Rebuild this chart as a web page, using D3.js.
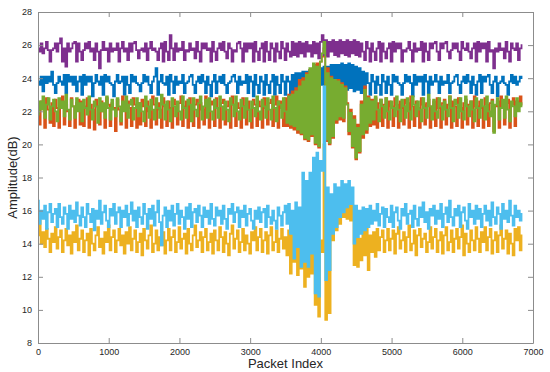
<!DOCTYPE html>
<html>
<head>
<meta charset="utf-8">
<script src="https://cdn.jsdelivr.net/npm/d3@7"></script>
<style>
  body { margin: 0; background: #fff; }
  svg { display: block; font-family: "Liberation Sans", Arial, sans-serif; }
  .axis path, .axis line { stroke: #8c8c8c; }
  .axis text { fill: #262626; font-size: 9px; }
  .trace { fill: none; stroke-width: 1.8; stroke-linejoin: miter; }
</style>
</head>
<body>
<svg class="chart" width="550" height="372"></svg>
<script>
// one reading every 25 packets, 0 .. 6850 (25 readings per row)
var packetStep = 25;

var purple = [
  25.8, 25.6, 26.1, 25.5, 25.8, 26.2, 25.7, 25.0, 25.7, 25.8, 26.1, 25.6, 26.1, 26.4, 25.0, 25.8, 24.7, 26.1, 25.6, 25.8, 26.1, 26.2, 25.0, 26.1, 25.6,
  25.1, 25.7, 26.1, 25.8, 26.2, 25.6, 25.8, 25.1, 26.1, 25.6, 24.6, 25.7, 26.2, 25.7, 25.8, 25.0, 26.1, 25.6, 25.8, 25.7, 26.1, 25.0, 25.8, 26.2, 25.6,
  25.8, 25.1, 26.1, 25.6, 26.1, 26.2, 25.7, 25.2, 25.7, 25.8, 25.6, 26.1, 25.1, 25.8, 26.2, 25.7, 25.8, 25.6, 25.1, 25.8, 26.1, 25.0, 26.2, 25.6, 25.1,
  26.6, 25.8, 25.1, 26.1, 25.6, 25.8, 25.7, 26.2, 25.1, 25.7, 25.6, 26.1, 25.7, 25.8, 25.2, 26.2, 25.6, 25.0, 26.1, 25.8, 26.1, 25.7, 25.8, 25.0, 26.2,
  25.6, 25.1, 25.8, 26.1, 25.7, 26.2, 25.6, 25.2, 26.1, 25.8, 25.0, 25.7, 25.6, 26.1, 26.2, 25.8, 25.0, 26.1, 25.6, 26.1, 25.8, 26.1, 25.0, 26.2, 25.6,
  25.1, 25.8, 26.1, 25.0, 26.2, 25.6, 25.1, 26.1, 25.8, 25.0, 26.1, 25.6, 25.2, 26.2, 25.8, 25.1, 26.1, 25.6, 25.3, 26.2, 25.4, 26.1, 25.3, 26.2, 25.5,
  26.1, 25.3, 26.2, 25.6, 26.0, 25.3, 26.2, 25.5, 26.1, 25.2, 26.2, 26.6, 25.4, 26.3, 25.3, 26.2, 25.6, 26.3, 25.4, 26.2, 25.3, 26.3, 25.5, 26.2, 25.4,
  26.3, 25.3, 26.2, 25.5, 26.3, 25.4, 26.2, 25.3, 26.1, 25.6, 25.1, 26.2, 25.8, 25.0, 26.1, 25.6, 25.1, 25.8, 26.2, 25.0, 26.1, 25.6, 25.2, 25.8, 26.1,
  25.0, 26.2, 25.6, 26.1, 25.8, 26.1, 25.0, 25.7, 25.6, 25.8, 26.2, 25.7, 25.0, 26.1, 25.6, 25.8, 25.7, 26.2, 25.0, 26.1, 25.6, 25.1, 26.1, 25.8, 26.1,
  26.2, 25.6, 25.1, 26.1, 25.8, 26.1, 26.2, 25.6, 25.2, 25.7, 26.1, 25.8, 26.1, 25.6, 25.1, 26.2, 25.8, 25.7, 26.1, 25.6, 25.2, 25.8, 26.1, 25.0, 26.2,
  25.6, 26.1, 25.8, 26.1, 25.0, 26.2, 25.6, 25.7, 24.6, 25.8, 25.6, 26.1, 25.7, 25.8, 25.2, 26.2, 25.6, 25.0, 26.1, 25.8, 25.7, 26.1, 25.1, 25.8, 26.0
];

var blue = [
  23.8, 23.6, 24.1, 23.2, 24.1, 23.7, 24.1, 23.8, 24.4, 23.6, 23.1, 23.7, 24.1, 23.8, 23.6, 24.2, 23.1, 24.2, 23.8, 24.1, 23.6, 24.1, 23.2, 23.8, 24.1,
  23.0, 24.2, 23.6, 24.1, 23.8, 24.1, 22.9, 23.7, 24.2, 23.8, 23.6, 24.1, 23.0, 24.2, 23.8, 24.1, 23.7, 23.6, 22.9, 23.8, 24.2, 23.7, 23.8, 24.1, 23.0,
  24.1, 23.6, 23.1, 24.2, 23.8, 24.1, 23.7, 23.6, 23.2, 23.7, 24.2, 23.8, 24.1, 23.6, 23.1, 23.8, 24.1, 24.6, 23.0, 23.8, 24.2, 23.7, 23.6, 24.1, 23.0,
  24.2, 23.8, 23.1, 24.1, 23.6, 23.8, 23.7, 24.2, 23.1, 23.7, 23.8, 24.1, 24.2, 23.6, 23.1, 23.8, 24.1, 23.7, 24.2, 23.8, 23.1, 24.1, 23.6, 22.9, 23.8,
  24.2, 23.1, 23.8, 24.1, 23.7, 24.2, 23.6, 23.1, 23.7, 23.8, 24.1, 24.2, 23.8, 23.1, 24.1, 23.6, 23.8, 23.7, 24.2, 23.1, 24.1, 23.8, 22.9, 24.2, 23.6,
  23.1, 24.1, 23.8, 23.0, 24.2, 23.6, 23.1, 23.8, 24.2, 23.0, 24.1, 23.6, 23.1, 24.2, 23.8, 23.0, 24.1, 23.8, 23.1, 24.2, 23.2, 24.3, 23.2, 24.3, 23.3,
  24.4, 23.3, 24.4, 23.5, 24.5, 23.4, 24.5, 23.6, 24.6, 23.5, 24.6, 23.6, 24.7, 23.5, 24.7, 23.6, 24.8, 23.5, 24.8, 23.4, 24.8, 23.5, 24.9, 23.4, 24.8,
  23.3, 24.9, 23.4, 24.8, 23.2, 24.7, 23.3, 24.6, 23.1, 24.4, 23.2, 24.3, 23.7, 23.0, 24.2, 23.8, 23.1, 24.1, 23.6, 23.0, 24.2, 23.8, 23.1, 24.1, 23.6,
  23.0, 24.2, 23.8, 24.1, 23.7, 23.6, 23.0, 23.7, 24.2, 23.8, 24.1, 23.7, 22.9, 24.2, 23.6, 24.1, 23.8, 24.1, 23.0, 24.2, 23.8, 23.1, 24.1, 23.6, 23.8,
  24.2, 23.8, 23.1, 24.1, 23.6, 23.8, 23.7, 24.2, 23.1, 23.7, 23.8, 24.1, 24.2, 23.6, 23.1, 23.8, 24.1, 23.7, 24.2, 23.8, 23.1, 24.1, 23.6, 23.0, 23.8,
  24.2, 23.1, 24.1, 23.8, 24.1, 24.2, 23.6, 23.1, 23.8, 24.1, 22.9, 23.7, 23.8, 24.1, 23.7, 23.6, 23.0, 23.8, 24.2, 23.7, 24.1, 23.6, 23.8, 24.1, 24.0
];

var red = [
  22.0, 21.2, 22.6, 22.3, 21.0, 22.8, 22.1, 21.3, 22.5, 21.1, 22.7, 22.2, 21.0, 22.6, 22.9, 21.2, 22.4, 22.0, 21.1, 22.8, 22.3, 21.0, 22.5, 22.7, 21.2,
  22.6, 21.1, 22.3, 22.8, 21.0, 22.4, 22.1, 20.9, 22.7, 22.3, 21.2, 22.6, 22.0, 21.0, 22.8, 22.4, 21.1, 22.5, 22.2, 20.8, 22.7, 22.1, 21.2, 22.9, 22.3,
  21.0, 22.6, 22.2, 21.1, 22.8, 22.4, 21.0, 22.5, 21.2, 22.7, 22.3, 21.1, 22.6, 22.0, 21.0, 22.9, 22.4, 21.2, 22.5, 22.1, 21.0, 22.8, 22.3, 21.1, 22.6,
  22.2, 21.0, 22.7, 22.4, 21.2, 22.5, 22.9, 21.1, 22.3, 22.6, 21.0, 22.8, 22.2, 21.1, 22.4, 22.7, 21.0, 22.5, 22.1, 21.2, 22.9, 22.3, 21.0, 22.6, 22.4,
  21.1, 22.8, 22.2, 21.0, 22.5, 22.7, 21.2, 22.3, 22.6, 21.0, 22.9, 22.4, 21.1, 22.5, 22.2, 21.0, 22.8, 22.3, 21.2, 22.6, 22.1, 21.0, 22.7, 22.4, 21.1,
  22.6, 22.3, 21.0, 22.8, 22.2, 21.2, 22.5, 22.7, 21.1, 22.4, 22.9, 21.0, 22.6, 22.2, 21.1, 22.8, 21.1, 23.0, 21.0, 23.2, 20.9, 23.4, 20.7, 23.9, 20.6,
  24.0, 20.3, 24.3, 20.2, 24.5, 20.5, 24.8, 20.0, 24.9, 19.8, 25.0, 25.3, 25.8, 20.2, 24.6, 20.0, 24.1, 20.4, 23.9, 21.3, 23.9, 21.5, 23.7, 21.4, 23.5,
  22.5, 20.6, 22.1, 19.8, 21.7, 19.1, 21.2, 19.5, 22.6, 20.4, 23.5, 20.7, 22.9, 21.1, 22.7, 21.2, 22.8, 21.0, 22.5, 22.7, 21.1, 22.4, 22.8, 21.0, 22.6,
  22.3, 21.1, 22.8, 22.4, 21.0, 22.6, 22.2, 21.2, 22.7, 22.5, 21.0, 22.9, 22.3, 21.1, 22.6, 22.2, 21.0, 22.8, 22.4, 21.2, 22.5, 22.7, 21.0, 22.3, 22.6,
  21.1, 22.8, 22.2, 21.0, 22.5, 22.7, 21.2, 22.4, 22.9, 21.0, 22.6, 22.3, 21.1, 22.8, 22.2, 21.0, 22.5, 22.7, 21.2, 22.4, 22.6, 21.0, 22.9, 22.3, 21.1,
  22.6, 22.2, 21.0, 22.8, 22.4, 21.1, 22.5, 22.7, 20.8, 22.3, 22.6, 21.0, 22.9, 22.2, 21.2, 22.5, 22.7, 21.0, 22.4, 22.8, 21.1, 22.6, 22.3, 22.9, 22.4
];

var yellow = [
  14.5, 15.4, 14.0, 14.7, 13.8, 14.9, 14.3, 13.5, 14.6, 14.1, 15.0, 13.7, 14.4, 14.8, 13.5, 14.2, 14.9, 13.9, 14.5, 13.4, 14.7, 14.1, 15.1, 13.6, 14.3,
  14.8, 13.5, 14.2, 14.6, 13.3, 14.9, 14.0, 13.6, 14.5, 15.0, 13.8, 14.3, 13.4, 14.7, 14.1, 15.1, 13.6, 14.4, 14.8, 13.5, 14.2, 14.9, 13.9, 14.5, 13.4,
  14.7, 14.0, 15.0, 13.6, 14.3, 14.8, 13.5, 14.1, 14.6, 13.3, 14.9, 14.2, 13.7, 14.5, 15.1, 13.5, 14.0, 14.8, 13.6, 14.4, 13.9, 14.7, 13.4, 14.2, 14.9,
  13.6, 14.4, 14.8, 13.5, 14.1, 15.0, 13.7, 14.3, 14.6, 13.4, 14.9, 14.0, 13.6, 14.5, 15.1, 13.8, 14.2, 14.7, 13.5, 14.4, 14.9, 13.6, 14.1, 14.6, 13.4,
  14.8, 14.2, 13.6, 15.0, 14.4, 13.5, 14.7, 14.0, 13.3, 14.6, 15.1, 13.7, 14.3, 14.8, 13.5, 14.1, 14.9, 13.6, 14.5, 14.0, 13.4, 14.7, 14.2, 15.0, 13.6,
  14.4, 14.9, 13.5, 14.2, 14.7, 13.4, 14.5, 15.0, 13.6, 14.1, 14.8, 13.5, 14.3, 14.9, 13.7, 14.4, 13.3, 14.8, 12.2, 14.6, 12.9, 15.0, 12.1, 14.5, 12.5,
  14.8, 11.4, 15.0, 12.0, 14.6, 12.2, 14.0, 10.3, 14.5, 9.6, 14.2, 13.5, 20.0, 9.4, 15.0, 9.8, 15.5, 14.2, 16.2, 14.8, 16.4, 15.2, 16.6, 15.6, 16.3,
  15.5, 16.6, 15.4, 16.3, 12.7, 14.6, 12.6, 14.3, 13.0, 14.8, 13.3, 14.9, 12.4, 14.5, 13.5, 14.7, 13.2, 14.9, 13.6, 14.4, 14.8, 13.5, 14.2, 14.9, 13.6,
  14.3, 14.8, 13.4, 14.6, 15.0, 13.7, 14.2, 14.7, 13.5, 14.4, 15.1, 13.6, 14.0, 14.8, 13.3, 14.5, 14.9, 13.8, 14.3, 14.6, 13.5, 14.1, 15.0, 13.7, 14.4,
  14.9, 13.5, 14.2, 14.7, 13.4, 14.5, 15.0, 13.6, 14.1, 14.8, 13.5, 14.3, 14.9, 13.7, 14.4, 15.1, 13.3, 14.6, 14.0, 13.5, 14.8, 14.2, 13.6, 15.0, 14.3,
  13.5, 14.7, 14.1, 15.0, 13.6, 14.4, 14.9, 13.4, 14.2, 14.7, 13.5, 14.5, 15.1, 13.7, 14.3, 14.8, 13.4, 14.6, 14.0, 13.3, 14.9, 14.2, 15.0, 13.6, 14.5
];

var green = [
  21.8, 22.6, 22.1, 22.9, 21.6, 22.4, 22.8, 21.5, 22.3, 22.7, 22.0, 21.4, 22.8, 22.2, 22.6, 21.7, 23.0, 22.1, 21.5, 22.7, 22.3, 21.6, 22.8, 22.0, 22.5,
  21.4, 22.7, 22.2, 21.8, 22.9, 22.1, 21.5, 22.6, 22.3, 21.3, 22.8, 22.0, 22.5, 21.6, 22.9, 22.2, 21.5, 22.7, 22.1, 21.7, 22.8, 22.3, 21.4, 22.6, 22.0,
  22.9, 21.6, 22.4, 22.7, 21.5, 22.2, 22.8, 21.7, 22.5, 22.0, 21.4, 22.9, 22.3, 21.6, 22.7, 22.1, 21.5, 22.8, 22.2, 21.6, 23.0, 22.4, 21.5, 22.6, 22.1,
  21.4, 22.8, 22.3, 21.7, 22.6, 22.0, 21.5, 22.9, 22.2, 21.6, 22.7, 22.4, 21.4, 22.8, 22.1, 21.7, 22.5, 22.9, 21.5, 22.3, 22.7, 21.6, 22.8, 22.0, 21.5,
  22.7, 22.2, 21.6, 22.9, 22.3, 21.5, 22.6, 22.1, 21.4, 22.8, 22.4, 21.7, 22.9, 22.0, 21.5, 22.7, 22.3, 21.6, 22.8, 22.1, 21.4, 22.6, 22.2, 21.7, 22.9,
  22.0, 21.5, 22.7, 22.3, 21.6, 22.8, 22.1, 21.5, 22.9, 22.2, 21.4, 22.6, 22.4, 21.6, 22.8, 22.0, 21.3, 22.9, 21.2, 23.0, 21.1, 23.2, 20.9, 23.5, 20.7,
  23.8, 20.4, 24.2, 20.3, 24.6, 20.6, 24.9, 20.1, 24.7, 19.9, 25.0, 25.5, 26.2, 20.3, 24.3, 20.1, 24.0, 20.5, 23.9, 21.5, 23.8, 21.7, 23.6, 21.6, 23.4,
  22.4, 20.8, 21.9, 19.9, 21.5, 19.2, 21.0, 19.6, 22.4, 20.6, 23.3, 20.9, 22.8, 21.3, 22.6, 21.5, 22.9, 22.1, 21.4, 22.7, 22.3, 21.6, 22.8, 22.0, 21.5,
  22.6, 22.2, 21.7, 22.9, 22.1, 21.4, 22.7, 22.3, 21.6, 22.8, 22.0, 21.5, 22.9, 22.4, 21.7, 22.6, 22.1, 21.4, 22.8, 22.2, 21.6, 23.0, 22.3, 21.5, 22.7,
  22.0, 21.6, 22.8, 22.3, 21.5, 22.6, 22.1, 21.7, 22.9, 22.2, 21.4, 22.7, 22.4, 21.6, 22.8, 22.0, 21.5, 22.9, 22.3, 21.7, 22.6, 22.1, 21.4, 22.8, 22.2,
  21.6, 22.7, 22.3, 21.5, 22.9, 22.0, 21.7, 22.6, 20.7, 22.4, 22.8, 21.5, 22.2, 22.7, 21.6, 22.9, 22.1, 21.4, 22.6, 22.3, 21.7, 22.8, 22.0, 22.5, 22.3
];

var lightBlue = [
  16.6, 15.2, 16.0, 15.5, 16.3, 14.9, 15.9, 16.4, 15.3, 15.8, 16.1, 15.0, 16.4, 15.6, 15.2, 16.2, 15.8, 14.9, 16.3, 15.5, 16.0, 15.3, 16.5, 15.7, 15.1,
  16.2, 15.6, 15.0, 16.4, 15.8, 15.3, 16.1, 14.8, 16.0, 15.5, 16.6, 15.2, 15.9, 16.3, 15.4, 15.0, 16.1, 15.7, 16.4, 15.2, 15.9, 16.2, 15.0, 16.0, 15.6,
  16.3, 15.1, 15.8, 16.5, 15.4, 16.0, 15.0, 16.2, 15.6, 15.2, 16.4, 15.8, 14.9, 16.1, 15.5, 16.3, 15.1, 15.9, 16.6, 15.3, 13.9, 15.7, 16.2, 15.0, 16.0,
  15.4, 16.3, 15.1, 15.8, 16.4, 15.2, 16.0, 15.6, 14.9, 16.2, 15.5, 16.4, 15.0, 15.9, 16.1, 15.3, 16.3, 15.7, 15.0, 16.2, 15.6, 16.0, 15.2, 16.4, 15.5,
  15.1, 16.2, 15.7, 16.0, 15.2, 16.3, 15.5, 14.9, 16.1, 15.8, 16.4, 15.3, 15.9, 16.2, 15.0, 16.0, 15.6, 16.3, 15.1, 15.8, 16.1, 15.4, 14.9, 16.0, 15.5,
  16.2, 15.3, 15.9, 16.1, 15.0, 16.3, 15.6, 15.2, 16.0, 15.4, 14.9, 16.2, 15.7, 15.1, 15.9, 16.3, 15.2, 16.4, 14.6, 16.0, 13.1, 16.5, 13.8, 16.2, 12.6,
  18.3, 12.9, 17.8, 12.6, 18.3, 13.4, 19.2, 11.0, 19.5, 10.8, 19.0, 18.4, 23.5, 11.8, 17.4, 12.4, 17.0, 14.6, 17.6, 15.0, 17.4, 15.6, 17.8, 15.9, 17.6,
  16.2, 17.8, 16.4, 17.4, 14.0, 16.3, 14.4, 16.0, 14.6, 16.2, 14.8, 16.1, 15.0, 16.3, 15.2, 16.0, 15.4, 16.4, 15.1, 15.8, 16.2, 15.0, 16.1, 15.6, 15.3,
  16.3, 15.0, 15.9, 16.2, 15.4, 14.9, 16.1, 15.7, 16.4, 15.2, 15.8, 16.0, 15.0, 16.3, 15.5, 15.1, 16.2, 15.6, 16.5, 15.3, 15.9, 14.9, 16.1, 15.7, 16.3,
  15.2, 16.0, 15.5, 16.4, 15.0, 15.8, 16.2, 15.3, 16.6, 15.6, 15.1, 16.1, 15.7, 16.3, 15.0, 15.9, 16.2, 15.4, 14.9, 16.4, 15.6, 16.0, 15.2, 16.3, 15.5,
  16.1, 15.0, 15.8, 16.3, 15.4, 16.0, 15.1, 16.5, 15.6, 15.2, 16.2, 15.8, 14.9, 16.4, 15.5, 16.0, 15.3, 16.6, 15.7, 15.1, 16.3, 15.6, 16.0, 15.4, 15.8
];

// drawing order follows the MATLAB colour order
var series = [
  {values: blue, color: "#0072bd"},
  {values: red, color: "#d95319"},
  {values: yellow, color: "#edb120"},
  {values: purple, color: "#7e2f8e"},
  {values: green, color: "#77ac30"},
  {values: lightBlue, color: "#4dbeee"}
];

var xTicks = [0, 1000, 2000, 3000, 4000, 5000, 6000, 7000];
var yTicks = [8, 10, 12, 14, 16, 18, 20, 22, 24, 26, 28];

var svgWidth = 550,
    svgHeight = 372;
var margin = {top: 12, right: 17, bottom: 29, left: 38};
var width = svgWidth - margin.left - margin.right,
    height = svgHeight - margin.top - margin.bottom;

var x = d3.scaleLinear().domain([0, 7000]).range([0, width]);
var y = d3.scaleLinear().domain([8, 28]).range([height, 0]);

var svg = d3.select(".chart");
var g = svg.append("g")
    .attr("transform", "translate(" + margin.left + "," + margin.top + ")");

g.append("clipPath").attr("id", "clip")
    .append("rect").attr("width", width).attr("height", height);

// dense packet traces read as vertical strokes, so a step curve stands in
var line = d3.line()
    .curve(d3.curveStep)
    .x(function(d, i) { return x(i * packetStep); })
    .y(function(d) { return y(d); });

var plot = g.append("g").attr("clip-path", "url(#clip)");
plot.selectAll(".trace")
    .data(series)
    .enter().append("path")
    .attr("class", "trace")
    .attr("stroke", function(d) { return d.color; })
    .attr("d", function(d) { return line(d.values); });

// box with inward ticks on all four sides
var fmt = d3.format("d");
g.append("g").attr("class", "axis")
    .attr("transform", "translate(0," + height + ")")
    .call(d3.axisBottom(x).tickValues(xTicks).tickFormat(fmt).tickSizeInner(-5).tickSizeOuter(0).tickPadding(6));
g.append("g").attr("class", "axis")
    .call(d3.axisTop(x).tickValues(xTicks).tickSizeInner(-5).tickSizeOuter(0).tickFormat(""));
g.append("g").attr("class", "axis")
    .call(d3.axisLeft(y).tickValues(yTicks).tickFormat(fmt).tickSizeInner(-5).tickSizeOuter(0).tickPadding(6));
g.append("g").attr("class", "axis")
    .attr("transform", "translate(" + width + ",0)")
    .call(d3.axisRight(y).tickValues(yTicks).tickSizeInner(-5).tickSizeOuter(0).tickFormat(""));

g.append("text")
    .attr("x", width / 2)
    .attr("y", height + 25)
    .attr("text-anchor", "middle")
    .attr("fill", "#262626")
    .style("font-size", "13px")
    .text("Packet Index");

g.append("text")
    .attr("transform", "translate(" + (-21) + "," + (height / 2) + ") rotate(-90)")
    .attr("text-anchor", "middle")
    .attr("fill", "#262626")
    .style("font-size", "13px")
    .text("Amplitude(dB)");
</script>
</body>
</html>
